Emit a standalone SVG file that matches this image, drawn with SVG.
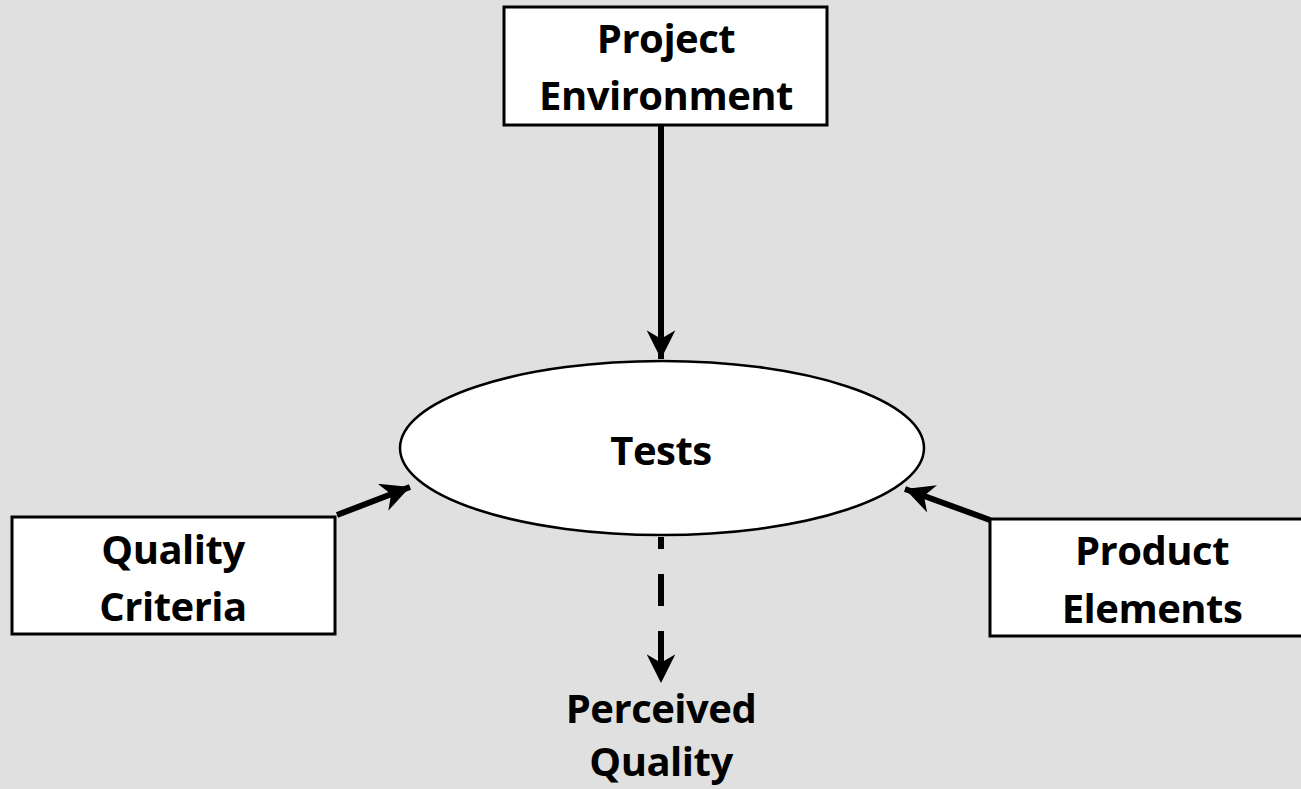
<svg xmlns="http://www.w3.org/2000/svg" width="1301" height="789" viewBox="0 0 1301 789">
<style>
.box{fill:#fff;stroke:#000;stroke-width:3}
.lbl{font-family:"Open Sans","Lato","Liberation Sans",sans-serif;font-weight:bold;font-size:40px;fill:#000;text-anchor:middle;letter-spacing:-0.5px}
.con{stroke:#000;stroke-width:6;fill:none}
</style>
<defs>
<marker id="ah" viewBox="0 0 10 10" refX="10" refY="5" markerWidth="4.8" markerHeight="4.8" orient="auto" markerUnits="strokeWidth">
<path d="M0,0 L10,5 L0,10 L3,5 Z" fill="#000"/>
</marker>
</defs>
<rect width="1301" height="789" fill="#e0e0e0"/>
<g id="connectors">
<line class="con" x1="661" y1="126" x2="661" y2="359" marker-end="url(#ah)"/>
<line class="con" x1="337" y1="515" x2="410" y2="487" marker-end="url(#ah)"/>
<line class="con" x1="990" y1="520" x2="905" y2="489" marker-end="url(#ah)"/>
<line class="con" x1="661" y1="537" x2="661" y2="683" stroke-dasharray="32,25" stroke-dashoffset="20" marker-end="url(#ah)"/>
</g>
<g id="project-environment">
<rect class="box" x="504" y="7" width="323" height="118"/>
<text class="lbl" x="666" y="53">Project</text>
<text class="lbl" x="666" y="110">Environment</text>
</g>
<g id="tests">
<ellipse cx="662" cy="448" rx="262" ry="87" fill="#fff" stroke="#000" stroke-width="2.5"/>
<text class="lbl" x="661" y="465">Tests</text>
</g>
<g id="quality-criteria">
<rect class="box" x="12" y="517" width="323" height="117"/>
<text class="lbl" x="173" y="564">Quality</text>
<text class="lbl" x="173" y="621">Criteria</text>
</g>
<g id="product-elements">
<rect class="box" x="990" y="519" width="330" height="117"/>
<text class="lbl" x="1152" y="565">Product</text>
<text class="lbl" x="1152" y="623">Elements</text>
</g>
<g id="perceived-quality">
<text class="lbl" x="661" y="723">Perceived</text>
<text class="lbl" x="661" y="776">Quality</text>
</g>
</svg>
